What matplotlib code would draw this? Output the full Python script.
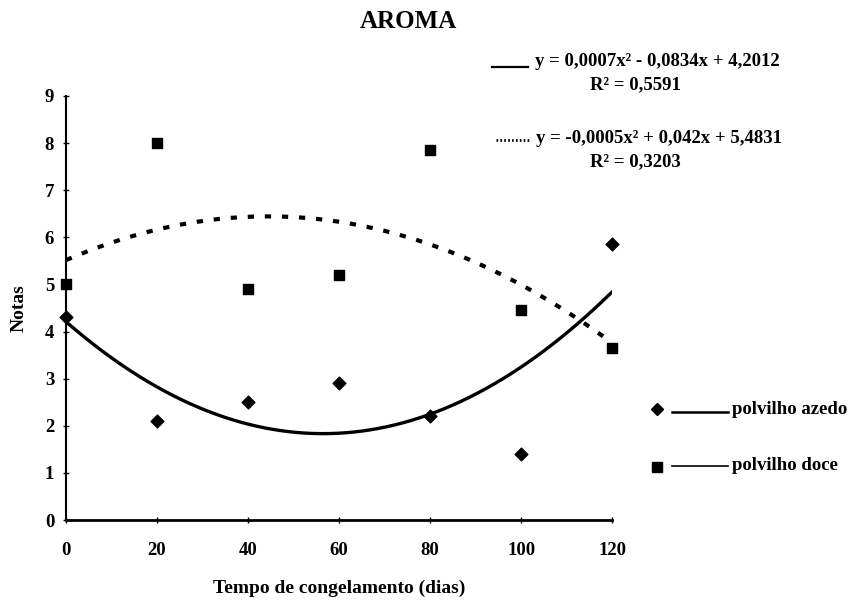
import matplotlib
matplotlib.use('Agg')
import matplotlib.pyplot as plt
from matplotlib.lines import Line2D
import numpy as np

plt.rcParams['font.family'] = ['Liberation Serif', 'DejaVu Serif']
plt.rcParams['font.weight'] = 'bold'

# Data
dias = [0, 20, 40, 60, 80, 100, 120]
azedo = [4.3, 2.1, 2.5, 2.9, 2.2, 1.4, 5.85]
doce = [5.0, 8.0, 4.9, 5.2, 7.85, 4.45, 3.65]
xticks = [0, 20, 40, 60, 80, 100, 120]
yticks = list(range(0, 10))
eq_azedo = 'y = 0,0007x² - 0,0834x + 4,2012'
r2_azedo = 'R² = 0,5591'
eq_doce = 'y = -0,0005x² + 0,042x + 5,4831'
r2_doce = 'R² = 0,3203'

fig = plt.figure(figsize=(8.49, 6.03), dpi=100)
ax = fig.add_axes([0.0777, 0.1376, 0.6433, 0.7032])

# quadratic trend lines (like the spreadsheet did)
xs = np.linspace(0, 120, 200)
pa = np.polyfit(dias, azedo, 2)
pd_ = np.polyfit(dias, doce, 2)
ax.plot(xs, np.polyval(pa, xs), color='black', lw=2.4, zorder=2)
ax.plot(xs, np.polyval(pd_, xs), color='black', lw=3.0, linestyle=(0, (1.5, 2.6)), zorder=2)

ax.scatter(dias, azedo, marker='D', s=42, color='black', zorder=3, clip_on=False)
ax.scatter(dias, doce, marker='s', s=60, color='black', zorder=3, clip_on=False)

ax.set_xlim(0, 120)
ax.set_ylim(0, 9)
ax.set_xticks(xticks)
ax.set_yticks(yticks)
ax.tick_params(axis='both', labelsize=13.5, direction='inout', length=5, width=1)
ax.tick_params(axis='x', pad=13)
ax.tick_params(axis='y', pad=6)
for lab in ax.get_xticklabels() + ax.get_yticklabels():
    lab.set_fontweight('bold')
ax.spines['top'].set_visible(False)
ax.spines['right'].set_visible(False)
ax.spines['left'].set_linewidth(1.5)
ax.spines['bottom'].set_linewidth(2)

ax.set_xlabel('Tempo de congelamento (dias)', fontsize=14, fontweight='bold', labelpad=15)
ax.set_ylabel('Notas', fontsize=14, fontweight='bold', labelpad=12)

fig.text(0.481, 0.965, 'AROMA', ha='center', va='center', fontsize=18, fontweight='bold')

# equation labels
fig.text(0.630, 0.898, eq_azedo, ha='left', va='center', fontsize=13.5, fontweight='bold')
fig.text(0.748, 0.860, r2_azedo, ha='center', va='center', fontsize=13.5, fontweight='bold')
fig.add_artist(Line2D([0.580, 0.622], [0.889, 0.889], color='black', lw=1.6))
fig.text(0.631, 0.7695, eq_doce, ha='left', va='center', fontsize=13.5, fontweight='bold')
fig.text(0.748, 0.7313, r2_doce, ha='center', va='center', fontsize=13.5, fontweight='bold')
fig.add_artist(Line2D([0.584, 0.626], [0.768, 0.768], color='black', lw=2.0,
                      linestyle=(0, (0.6, 0.8))))

# legend
fig.add_artist(Line2D([0.791, 0.858], [0.316, 0.316], color='black', lw=1.8))
fig.add_artist(Line2D([0.791, 0.858], [0.228, 0.228], color='black', lw=1.2))
fig.add_artist(Line2D([0.774], [0.321], color='black', marker='D', markersize=6.5))
fig.add_artist(Line2D([0.774], [0.226], color='black', marker='s', markersize=7.5))
fig.text(0.862, 0.321, 'polvilho azedo', ha='left', va='center', fontsize=13.5, fontweight='bold')
fig.text(0.862, 0.228, 'polvilho doce', ha='left', va='center', fontsize=13.5, fontweight='bold')

fig.savefig('out.png', dpi=100)
